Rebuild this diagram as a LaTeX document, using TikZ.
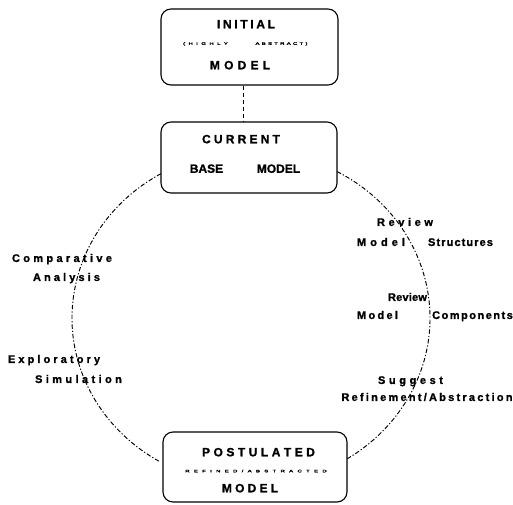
\documentclass[tikz,border=0pt]{standalone}
\usepackage{graphicx}
\usepackage{fontspec}
\setmainfont{Liberation Sans}[BoldFeatures={FakeBold=1.2}]
\newfontfamily\smallprint{Liberation Sans}[FakeBold=3]
\makeatletter
% letter-spaced text: \lsp{gap}{letters}
\newcommand\lsp[2]{\def\lsp@k{#1}\@tfor\lsp@c:=#2\do{\lsp@c\kern\lsp@k}\unkern}
\makeatother
% squat small print used for the sub-captions
\newcommand\squat[1]{\scalebox{1}[0.6]{#1}}
\begin{document}
\begin{tikzpicture}[x=1pt,y=1pt,
  modelbox/.style={draw, line width=1.1pt, rounded corners=10pt, fill=white, inner sep=0pt},
  boxtext/.style={inner sep=0pt, text height=8.6pt, text depth=0pt, font=\bfseries\fontsize{12}{14}\selectfont},
  tinytext/.style={inner sep=0pt, text height=2.6pt, text depth=0pt, font=\smallprint\fontsize{6}{7}\selectfont},
  sidetext/.style={inner sep=0pt, text height=7.9pt, text depth=0pt, font=\bfseries\fontsize{11}{13}\selectfont},
  cyc/.style={line width=0.95pt, dash pattern=on 4.5pt off 2pt on 1.2pt off 2pt},
  link/.style={line width=0.9pt, dash pattern=on 4pt off 3pt}]
\useasboundingbox (0,0) rectangle (513,504);

% cycle of refinement: two elliptic arcs between the current and postulated models
\coordinate (E) at (251,186);
\draw[cyc] ([shift={(120.2:179 and 167)}]E) coordinate (la)
  arc[start angle=120.2, end angle=239.4, x radius=179, y radius=167] coordinate (lb);
\draw[cyc] ([shift={(61.3:179 and 167)}]E) coordinate (ra)
  arc[start angle=61.3, end angle=-57.6, x radius=179, y radius=167] coordinate (rb);

% model boxes
\node[modelbox, minimum width=177pt, minimum height=76pt] (ini) at (249.5,457) {};
\node[modelbox, minimum width=176pt, minimum height=71pt] (cur) at (249,346.5) {};
\node[modelbox, minimum width=184pt, minimum height=70pt] (post) at (255,37) {};

\coordinate (lx) at (243,0);
\draw[link] (ini.south -| lx) -- (cur.north -| lx);

% initial model
\node[boxtext] (iniA) at (246,480) {\lsp{2.67pt}{INITIAL}};
\node[tinytext] (iniB) at (205.5,460.5) {\squat{\lsp{3.4pt}{(HIGHLY}}};
\node[tinytext] (iniC) at (281.5,460.5) {\squat{\lsp{2.25pt}{ABSTRACT)}}};
\node[boxtext] (iniD) at (240,439) {\lsp{4.2pt}{MODEL}};

% current base model
\node[boxtext] (curA) at (241,365) {\lsp{3.2pt}{CURRENT}};
\node[boxtext] (curB) at (206.5,335.5) {BASE};
\node[boxtext] (curC) at (278.5,335.5) {MODEL};

% postulated model
\node[boxtext] (postA) at (258.5,52) {\lsp{3.5pt}{POSTULATED}};
\node[tinytext] (postB) at (256,33) {\squat{\lsp{4.3pt}{REFINED/ABSTRACTED}}};
\node[boxtext] (postC) at (250,16) {\lsp{3.2pt}{MODEL}};

% activities on the left arc
\node[sidetext] (t1) at (62,246) {\lsp{3.33pt}{Comparative}};
\node[sidetext] (t2) at (66.5,227) {\lsp{3.1pt}{Analysis}};
\node[sidetext] (t3) at (54,145) {\lsp{3.1pt}{Exploratory}};
\node[sidetext] (t4) at (78.5,125) {\lsp{3.4pt}{Simulation}};

% activities on the right arc
\node[sidetext] (r1) at (405,282) {\lsp{3.6pt}{Review}};
\node[sidetext] (r2) at (381,262) {\lsp{4.05pt}{Model}};
\node[sidetext] (r3) at (460.5,262) {\lsp{1.1pt}{Structures}};
\node[sidetext] (r4) at (407.5,207) {\lsp{0.2pt}{Review}};
\node[sidetext] (r5) at (377.5,189) {\lsp{2.3pt}{Model}};
\node[sidetext] (r6) at (472.5,189) {\lsp{1.5pt}{Components}};
\node[sidetext] (r7) at (410.5,124) {\lsp{3.6pt}{Suggest}};
\node[sidetext] (r8) at (427,107) {\lsp{2.24pt}{Refinement/Abstraction}};
\end{tikzpicture}
\end{document}
